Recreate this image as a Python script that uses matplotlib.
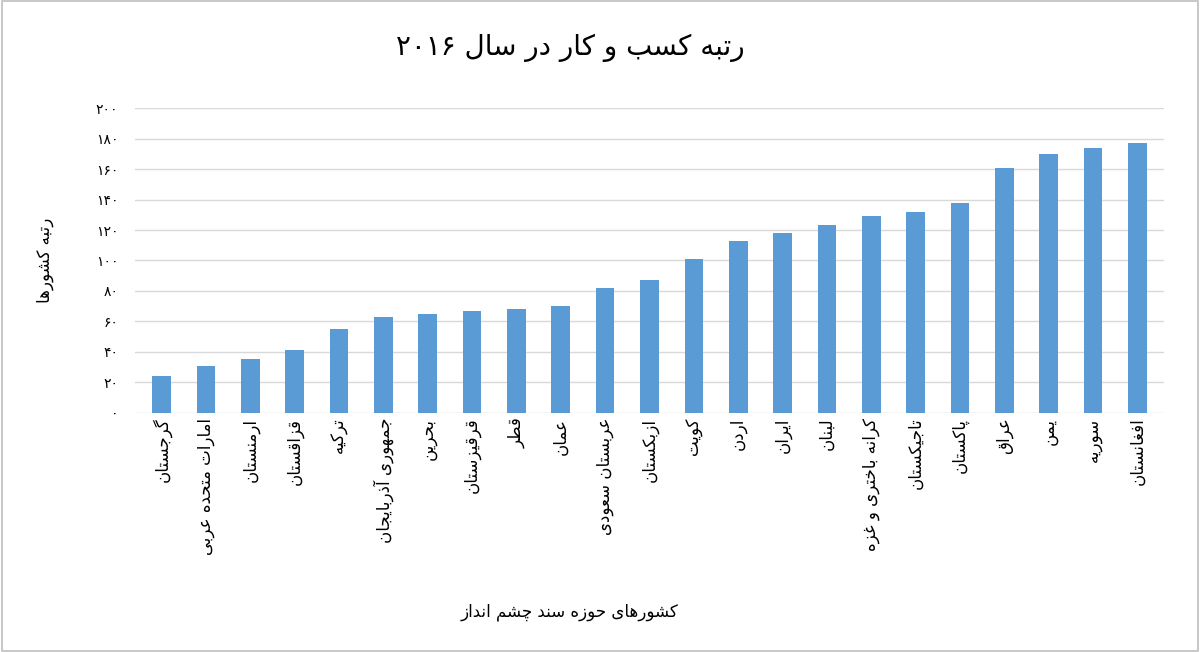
import matplotlib.pyplot as plt
import numpy as np

countries = ['گرجستان', 'امارات متحده عربی', 'ارمنستان', 'قزاقستان', 'ترکیه',
             'جمهوری آذربایجان', 'بحرین', 'قرقیزستان', 'قطر', 'عمان',
             'عربستان سعودی', 'ازبکستان', 'کویت', 'اردن', 'ایران', 'لبنان',
             'کرانه باختری و غزه', 'تاجیکستان', 'پاکستان', 'عراق', 'یمن',
             'سوریه', 'افغانستان']
ranks = [24, 31, 35, 41, 55, 63, 65, 67, 68, 70, 82, 87, 101, 113, 118, 123,
         129, 132, 138, 161, 170, 174, 177]
yticks = list(range(0, 201, 20))

# minimal Persian shaping (matplotlib has no bidi/shaping)
FORMS = {
    'ا': (0xFE8D, 0xFE8E), 'آ': (0xFE81, 0xFE82), 'د': (0xFEA9, 0xFEAA),
    'ذ': (0xFEAB, 0xFEAC), 'ر': (0xFEAD, 0xFEAE), 'ز': (0xFEAF, 0xFEB0),
    'و': (0xFEED, 0xFEEE), 'ژ': (0xFB8A, 0xFB8B),
    'ب': 0xFE8F, 'ت': 0xFE95, 'ث': 0xFE99, 'ج': 0xFE9D, 'ح': 0xFEA1,
    'خ': 0xFEA5, 'س': 0xFEB1, 'ش': 0xFEB5, 'ص': 0xFEB9, 'ض': 0xFEBD,
    'ط': 0xFEC1, 'ظ': 0xFEC5, 'ع': 0xFEC9, 'غ': 0xFECD, 'ف': 0xFED1,
    'ق': 0xFED5, 'ل': 0xFEDD, 'م': 0xFEE1, 'ن': 0xFEE5, 'ه': 0xFEE9,
    'ی': 0xFBFC, 'ک': 0xFB8E, 'گ': 0xFB92, 'پ': 0xFB56, 'چ': 0xFB7A,
}


def joins_next(c):
    return c in FORMS and not isinstance(FORMS[c], tuple)


def shape_word(w):
    out = []
    for i, c in enumerate(w):
        if c not in FORMS:
            out.append(c)
            continue
        prev = i > 0 and joins_next(w[i - 1])
        nxt = i < len(w) - 1 and w[i + 1] in FORMS
        f = FORMS[c]
        if isinstance(f, tuple):
            out.append(chr(f[1] if prev else f[0]))
        else:
            if prev and nxt:
                k = 3
            elif prev:
                k = 1
            elif nxt:
                k = 2
            else:
                k = 0
            out.append(chr(f + k))
    return ''.join(out)


def fa(s):
    words = s.split(' ')
    vis = []
    for w in reversed(words):
        if all(ch.isdigit() for ch in w):
            vis.append(w)
        else:
            vis.append(shape_word(w)[::-1])
    return ' '.join(vis)


def fa_num(n):
    return ''.join(chr(0x06F0 + int(d)) for d in str(n))


plt.rcParams['font.family'] = 'DejaVu Sans'
fig = plt.figure(figsize=(12, 6.52), dpi=100)
fig.patches.append(plt.Rectangle((0.002, 0.002), 0.996, 0.996, transform=fig.transFigure,
                                 fill=False, edgecolor='#bfbfbf', linewidth=1.2))
ax = fig.add_axes([0.1125, 0.367, 0.8575, 0.467])

x = np.arange(len(countries))
ax.bar(x, ranks, width=0.42, color='#5B9BD5', zorder=3)
ax.set_xlim(-0.6, len(countries) - 0.4)
ax.set_ylim(0, 200)
ax.set_yticks(yticks)
ax.set_yticklabels([fa_num(v) for v in yticks], fontsize=10)
ax.set_xticks(x)
ax.set_xticklabels([fa(c) for c in countries], rotation=90, fontsize=12)
ax.grid(axis='y', color='#d9d9d9', linewidth=1, zorder=0)
for s in ax.spines.values():
    s.set_visible(False)
ax.tick_params(length=0)
ax.tick_params(axis='y', pad=12)

ax.set_ylabel(fa('رتبه کشورها'), fontsize=12, labelpad=30)
fig.text(0.475, 0.055, fa('کشورهای حوزه سند چشم انداز'), ha='center', fontsize=12)
fig.text(0.475, 0.915, fa('رتبه کسب و کار در سال ' + fa_num(2016)), ha='center',
         fontsize=20)

fig.savefig('out.png', dpi=100)
